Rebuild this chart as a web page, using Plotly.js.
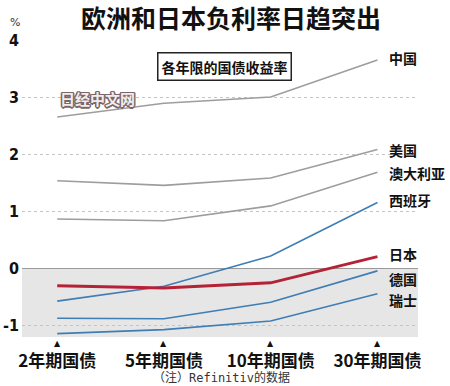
<!DOCTYPE html>
<html><head><meta charset="utf-8">
<script src="https://cdn.plot.ly/plotly-3.0.1.min.js"></script>
<style>html,body{margin:0;padding:0;background:#fff;}#chart{width:450px;height:386px;}</style>
</head><body><div id="chart"></div>
<script>
const categories = ["2年期国债", "5年期国债", "10年期国债", "30年期国债"];
const seriesNames = ["中国", "美国", "澳大利亚", "西班牙", "日本", "德国", "瑞士"];
const china     = [2.65, 2.89, 3.00, 3.65];
const usa       = [1.53, 1.45, 1.58, 2.08];
const australia = [0.86, 0.83, 1.09, 1.68];
const spain     = [-0.58, -0.32, 0.21, 1.15];
const japan     = [-0.31, -0.35, -0.26, 0.20];
const germany   = [-0.88, -0.89, -0.60, -0.05];
const swiss     = [-1.15, -1.08, -0.93, -0.45];
const yTicks = [-1, 0, 1, 2, 3, 4];
const labelY = [3.68, 2.07, 1.66, 1.19, 0.25, -0.19, -0.56];

const xs = categories.map((c, i) => i);
const gray = "#9d9d9d", blue = "#3f7db5", red = "#b52236";
const seriesData = [china, usa, australia, spain, japan, germany, swiss];
const colors = [gray, gray, gray, blue, red, blue, blue];
const widths = [1.6, 1.6, 1.6, 1.6, 3, 1.6, 1.6];
const order = [0, 1, 2, 3, 5, 6, 4];
const traces = order.map(i => ({
  x: xs, y: seriesData[i], type: "scatter", mode: "lines", name: seriesNames[i],
  line: {color: colors[i], width: widths[i]}, hoverinfo: "skip"
}));

const cjk = "Noto Sans CJK SC";
const annotations = seriesNames.map((n, i) => ({
  x: 3.09, y: labelY[i], xref: "x", yref: "y", text: n, showarrow: false, xanchor: "left",
  font: {family: cjk, size: 14, color: "#111", weight: "bold"}
}));
xs.forEach(v => annotations.push({x: v, y: -0.0, xref: "x", yref: "paper", yanchor: "top",
  text: "▲", showarrow: false, font: {family: "DejaVu Sans", size: 8, color: "#111"}}));
annotations.push({x: 0.5, y: 1.077, xref: "paper", yref: "paper", yanchor: "middle", showarrow: false,
  text: "<b>欧洲和日本负利率日趋突出</b>", font: {family: cjk, size: 25, color: "#111"}, xshift: 11});
annotations.push({x: 1.57, y: 3.54, xref: "x", yref: "y", showarrow: false,
  text: "<b>各年限的国债收益率</b>", font: {family: cjk, size: 14, color: "#111"},
  bordercolor: "#222", borderwidth: 1.5, borderpad: 3, bgcolor: "#fff"});
annotations.push({x: 0.38, y: 2.98, xref: "x", yref: "y", showarrow: false, xanchor: "center",
  text: "<b>日经中文网</b>", font: {family: cjk, size: 15, color: "#f2eced",
  shadow: "1px 1px 0 #7a666a, -1px -1px 0 #7a666a, 1px -1px 0 #7a666a, -1px 1px 0 #7a666a, 0 1.5px 0 #7a666a, 0 -1.5px 0 #7a666a, 1.5px 0 0 #7a666a, -1.5px 0 0 #7a666a"}});
annotations.push({x: -0.018, y: 1.058, xref: "paper", yref: "paper", yanchor: "middle", showarrow: false, xanchor: "center",
  text: "%", font: {family: "DejaVu Sans", size: 11, color: "#333"}});
annotations.push({x: 0.5, y: -0.135, xref: "paper", yref: "paper", yanchor: "middle", showarrow: false,
  text: "（注）Refinitiv的数据", font: {family: "DejaVu Sans Mono, Noto Sans CJK SC", size: 12, color: "#333"}, xshift: 1});

const layout = {
  width: 450, height: 386,
  margin: {l: 22, r: 32, t: 40, b: 49},
  paper_bgcolor: "#fff", plot_bgcolor: "#fff",
  showlegend: false,
  xaxis: {range: [-0.33, 3.38], tickvals: xs, ticktext: categories, showgrid: false, zeroline: false,
    showline: false, ticks: "", ticklabelstandoff: 12,
    tickfont: {family: cjk, size: 17, color: "#111", weight: "bold"}},
  yaxis: {range: [-1.21, 4.0], tickvals: yTicks, ticktext: yTicks.map(String), showgrid: true,
    gridcolor: "#c4c4c4", griddash: "dot", gridwidth: 1, zeroline: true, zerolinecolor: "#999", zerolinewidth: 1,
    showline: false, ticks: "", ticklabelstandoff: 2,
    tickfont: {family: "DejaVu Sans Condensed, DejaVu Sans", size: 16, color: "#111", weight: "bold"}},
  shapes: [{type: "rect", xref: "paper", yref: "y", x0: 0, x1: 1, y0: -1.21, y1: 0,
    fillcolor: "#e6e6e6", line: {width: 0}, layer: "between"}],
  annotations: annotations
};
Plotly.newPlot("chart", traces, layout, {displayModeBar: false, staticPlot: true});
</script></body></html>
